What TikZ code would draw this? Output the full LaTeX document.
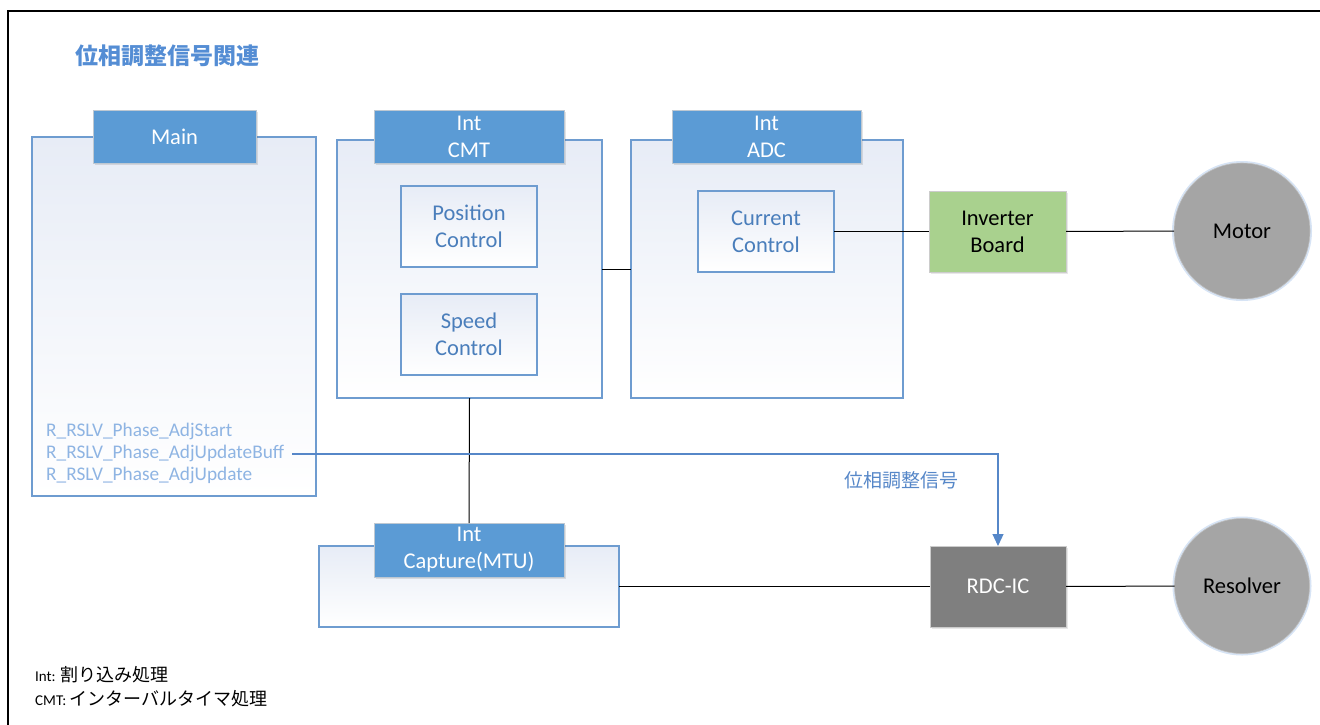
\documentclass[tikz,border=0pt]{standalone}
\usepackage{fontspec}
\setmainfont{Carlito}
\newfontfamily\cjk{Noto Sans CJK JP}
\usetikzlibrary{shadows,arrows.meta}
\definecolor{hdr}{RGB}{91,155,213}
\definecolor{hdrline}{RGB}{190,200,210}
\definecolor{cborder}{RGB}{110,156,208}
\definecolor{ctop}{RGB}{231,236,246}
\definecolor{itext}{RGB}{74,126,187}
\definecolor{mtext}{RGB}{142,180,227}
\definecolor{sigc}{RGB}{86,135,200}
\definecolor{ttl}{RGB}{84,141,212}
\definecolor{grn}{RGB}{169,209,142}
\definecolor{rdcg}{RGB}{127,127,127}
\definecolor{circg}{RGB}{165,165,165}
\definecolor{glow}{RGB}{215,228,245}
\begin{document}
\begin{tikzpicture}[x=1pt,y=-1pt,
  sz/.style 2 args={minimum width=#1, minimum height=#2},
  container/.style={draw=cborder, line width=1.1pt, top color=ctop, bottom color=white, inner sep=0pt, outer sep=0pt},
  header/.style={draw=hdrline, line width=0.8pt, fill=hdr, text=white, align=center, inner sep=0pt, outer sep=0pt,
    font=\fontsize{22.5}{27}\selectfont,
    drop shadow={shadow xshift=1.5pt, shadow yshift=-2pt, opacity=0.18, fill=black!60}},
  inner/.style={draw=cborder, line width=1.1pt, top color=ctop, bottom color=white, text=itext, align=center,
    inner sep=0pt, outer sep=0pt, font=\fontsize{22.5}{27}\selectfont},
  solid box/.style={draw=black!20, line width=0.8pt, align=center, inner sep=0pt, outer sep=0pt,
    font=\fontsize{22.5}{27}\selectfont,
    drop shadow={shadow xshift=1.5pt, shadow yshift=-2pt, opacity=0.15, fill=black!60}},
  disc/.style={circle, fill=circg, draw=black!25, line width=0.6pt, inner sep=0pt, outer sep=0pt,
    font=\fontsize{22.5}{27}\selectfont},
  mlabel/.style={anchor=west, inner sep=0pt, text=mtext, font=\fontsize{19.3}{22}\selectfont},
  wire/.style={draw=black, line width=1pt},
  sig/.style={draw=sigc, line width=1.2pt, -{Triangle[width=11pt,length=12pt]}}
]
\useasboundingbox (0,0) rectangle (1320,724);
% frame
\draw[line width=2.2pt] (1330,11) -- (8.3,11) -- (8.3,735);

% title
\node[anchor=west, inner sep=0pt, text=ttl, font=\cjk\bfseries\fontsize{23}{23}\selectfont] (title) at (75,56) {位相調整信号関連};

% containers
\node[container, sz={284pt}{359pt}] (mainC) at (174,316.5) {};
\node[container, sz={265pt}{258pt}] (cmtC) at (469.5,269) {};
\node[container, sz={272pt}{258pt}] (adcC) at (767,269) {};
\node[container, sz={300pt}{81pt}] (capC) at (469,586.5) {};

% headers
\node[header, sz={163pt}{53pt}] (mainH) at (174.5,136.5) {Main};
\node[header, sz={190pt}{53pt}] (cmtH) at (469,136.5) {Int\\CMT};
\node[header, sz={189pt}{53pt}] (adcH) at (766.5,136.5) {Int\\ADC};
\node[header, sz={190pt}{54pt}] (capH) at (469,550) {Int\\Capture(MTU)};

% inner boxes
\node[inner, sz={136pt}{81pt}] (pos) at (469,226.5) {Position\\Control};
\node[inner, sz={136pt}{81pt}] (spd) at (469,334.5) {Speed\\Control};
\node[inner, sz={136pt}{81pt}] (cur) at (766,231.5) {Current\\Control};

% right side
\node[solid box, fill=grn, text=black, sz={137pt}{81pt}] (inv) at (997.5,231.5) {Inverter\\Board};
\node[solid box, fill=rdcg, text=white, sz={136pt}{81pt}] (rdc) at (998,586.5) {RDC-IC};
\fill[glow] (1242,231) circle (70);
\fill[glow] (1242,586) circle (69.5);
\node[disc, minimum size=136pt] (motor) at (1242,231) {Motor};
\node[disc, minimum size=135pt] (resolver) at (1242,586) {Resolver};

% main labels
\node[mlabel] (l1) at (46,431) {R\_RSLV\_Phase\_AdjStart};
\node[mlabel] (l2) at (46,453) {R\_RSLV\_Phase\_AdjUpdateBuff};
\node[mlabel] (l3) at (46,475) {R\_RSLV\_Phase\_AdjUpdate};

% wires
\draw[wire] (cmtC) -- (adcC);
\draw[wire] (cmtC.south) -- (capH.north);
\draw[wire] (cur) -- (inv);
\draw[wire] (inv) -- (motor);
\draw[wire] (capC) -- (rdc);
\draw[wire] (rdc) -- (resolver);

% signal arrow
\coordinate (sstart) at (292,454);
\draw[sig] (sstart) -| (rdc.north);
\node[inner sep=0pt, text=sigc, font=\cjk\fontsize{19}{19}\selectfont] (siglab) at (901,480) {位相調整信号};

% notes
\node[anchor=west, inner sep=0pt] (n1) at (35,675) {{\fontsize{15}{18}\selectfont Int: }{\cjk\fontsize{18}{18}\selectfont 割り込み処理}};
\node[anchor=west, inner sep=0pt] (n2) at (35,699) {{\fontsize{15}{18}\selectfont CMT: }{\cjk\fontsize{18}{18}\selectfont インターバルタイマ処理}};
\end{tikzpicture}
\end{document}
